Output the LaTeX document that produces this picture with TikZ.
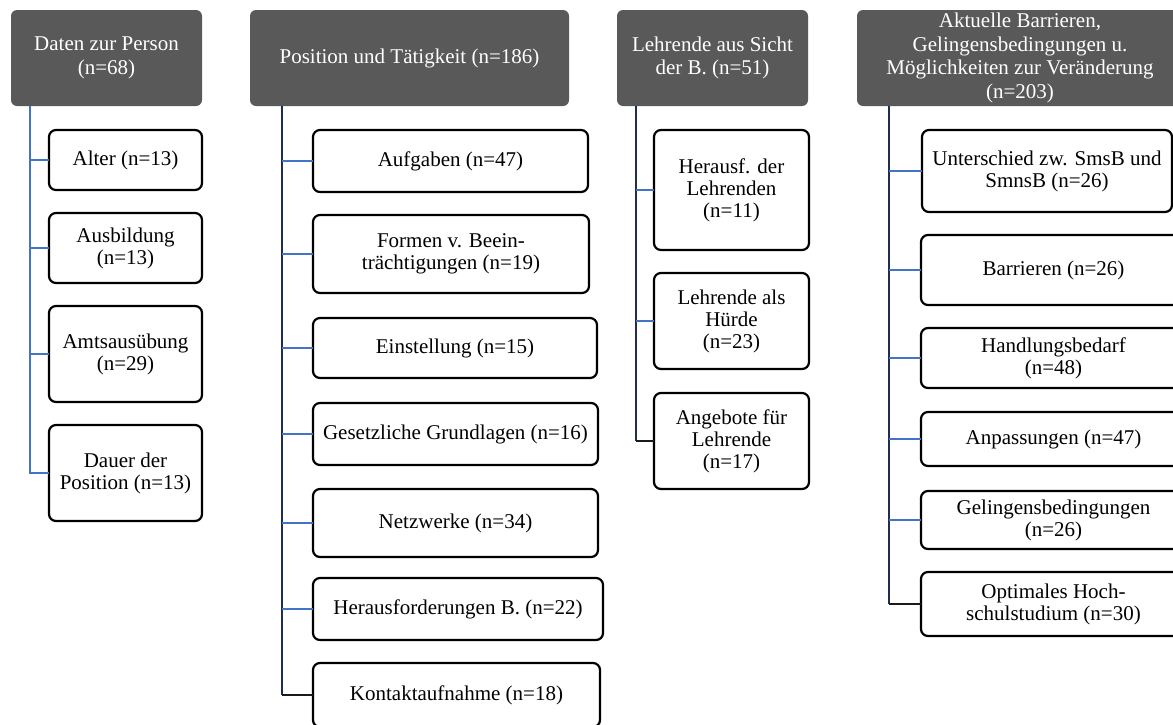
\documentclass[tikz,border=0pt]{standalone}
\usepackage{fontspec}
\setmainfont{Liberation Serif}
\definecolor{hdrgray}{HTML}{595959}
\definecolor{branchblue}{HTML}{4472C4}
\definecolor{trunknavy}{HTML}{1F2D4F}
\definecolor{lastdark}{HTML}{1A1A1A}
\tikzset{
  hdr/.style={fill=hdrgray, rounded corners=6pt, text=white, align=center, inner sep=0pt, outer sep=0pt, font=\fontsize{21}{23.5}\selectfont},
  child/.style={draw=black, line width=2.2pt, rounded corners=7pt, fill=white, align=center, inner sep=0pt, outer sep=0pt, font=\fontsize{21}{22}\selectfont},
  branch/.style={draw=branchblue, line width=1.4pt},
  trunkA/.style={draw=branchblue, line width=1.4pt},
  trunkB/.style={draw=trunknavy, line width=1.6pt},
  lastB/.style={draw=lastdark, line width=1.4pt}
}
\begin{document}
\begin{tikzpicture}[x=1pt,y=-1pt]
\useasboundingbox (0,0) rectangle (1173,724);
% ---------- Column 1 ----------
\node[hdr, minimum width=191pt, minimum height=96pt] (h1) at (106.5,58) {Daten zur Person\\(n=68)};
\node[child, minimum width=153pt, minimum height=60pt] (c11) at (125.5,160) {Alter (n=13)};
\node[child, minimum width=153pt, minimum height=70pt] (c12) at (125.5,248) {Ausbildung\\(n=13)};
\node[child, minimum width=153pt, minimum height=96pt] (c13) at (125.5,354) {Amtsausübung\\(n=29)};
\node[child, minimum width=153pt, minimum height=96pt] (c14) at (125.5,473) {Dauer der\\Position (n=13)};
\coordinate (v1) at (30,106);
% ---------- Column 2 ----------
\node[hdr, minimum width=319pt, minimum height=96pt] (h2) at (409.5,58) {Position und Tätigkeit (n=186)};
\node[child, minimum width=275pt, minimum height=62pt] (c21) at (450.5,161) {Aufgaben (n=47)};
\node[child, minimum width=276pt, minimum height=78pt] (c22) at (451,254) {Formen v. Beein-\\trächtigungen (n=19)};
\node[child, minimum width=284pt, minimum height=60pt] (c23) at (455,348) {Einstellung (n=15)};
\node[child, minimum width=285pt, minimum height=62pt] (c24) at (455.5,434) {Gesetzliche Grundlagen (n=16)};
\node[child, minimum width=285pt, minimum height=68pt] (c25) at (455.5,523) {Netzwerke (n=34)};
\node[child, minimum width=290pt, minimum height=62pt] (c26) at (458,609) {Herausforderungen B. (n=22)};
\node[child, minimum width=287pt, minimum height=64pt] (c27) at (456.5,695) {Kontaktaufnahme (n=18)};
\coordinate (v2) at (282,106);
% ---------- Column 3 ----------
\node[hdr, minimum width=191pt, minimum height=96pt] (h3) at (712.5,58) {Lehrende aus Sicht\\der B. (n=51)};
\node[child, minimum width=155pt, minimum height=120pt] (c31) at (731.5,190) {Herausf. der\\Lehrenden\\(n=11)};
\node[child, minimum width=155pt, minimum height=96pt] (c32) at (731.5,321) {Lehrende als\\Hürde\\(n=23)};
\node[child, minimum width=155pt, minimum height=96pt] (c33) at (731.5,441) {Angebote für\\Lehrende\\(n=17)};
\coordinate (v3) at (636,106);
% ---------- Column 4 ----------
\node[hdr, minimum width=326pt, minimum height=96pt] (h4) at (1020,58) {Aktuelle Barrieren,\\Gelingensbedingungen u.\\Möglichkeiten zur Veränderung\\(n=203)};
\node[child, minimum width=250pt, minimum height=82pt] (c41) at (1047,171) {Unterschied zw. SmsB und\\SmnsB (n=26)};
\node[child, minimum width=265pt, minimum height=70pt] (c42) at (1053.5,270) {Barrieren (n=26)};
\node[child, minimum width=265pt, minimum height=60pt] (c43) at (1053.5,358) {Handlungsbedarf\\(n=48)};
\node[child, minimum width=265pt, minimum height=54pt] (c44) at (1053.5,439) {Anpassungen (n=47)};
\node[child, minimum width=265pt, minimum height=58pt] (c45) at (1053.5,520) {Gelingensbedingungen\\(n=26)};
\node[child, minimum width=265pt, minimum height=64pt] (c46) at (1053.5,604) {Optimales Hoch-\\schulstudium (n=30)};
\coordinate (v4) at (889,106);
% ---------- Connectors ----------
% column 1
\draw[trunkA] (v1) |- (c14.west);
\foreach \c in {c11,c12,c13} \draw[branch] (v1 |- \c.west) -- (\c.west);
% column 2
\draw[trunkB] (v2) -- (v2 |- c27.west);
\draw[lastB] (v2 |- c27.west) -- (c27.west);
\foreach \c in {c21,c22,c23,c24,c25,c26} \draw[branch] (v2 |- \c.west) -- (\c.west);
% column 3
\draw[trunkB] (v3) -- (v3 |- c33.west);
\draw[lastB] (v3 |- c33.west) -- (c33.west);
\foreach \c in {c31,c32} \draw[branch] (v3 |- \c.west) -- (\c.west);
% column 4
\draw[trunkB] (v4) -- (v4 |- c46.west);
\draw[lastB] (v4 |- c46.west) -- (c46.west);
\foreach \c in {c41,c42,c43,c44,c45} \draw[branch] (v4 |- \c.west) -- (\c.west);
\end{tikzpicture}
\end{document}
